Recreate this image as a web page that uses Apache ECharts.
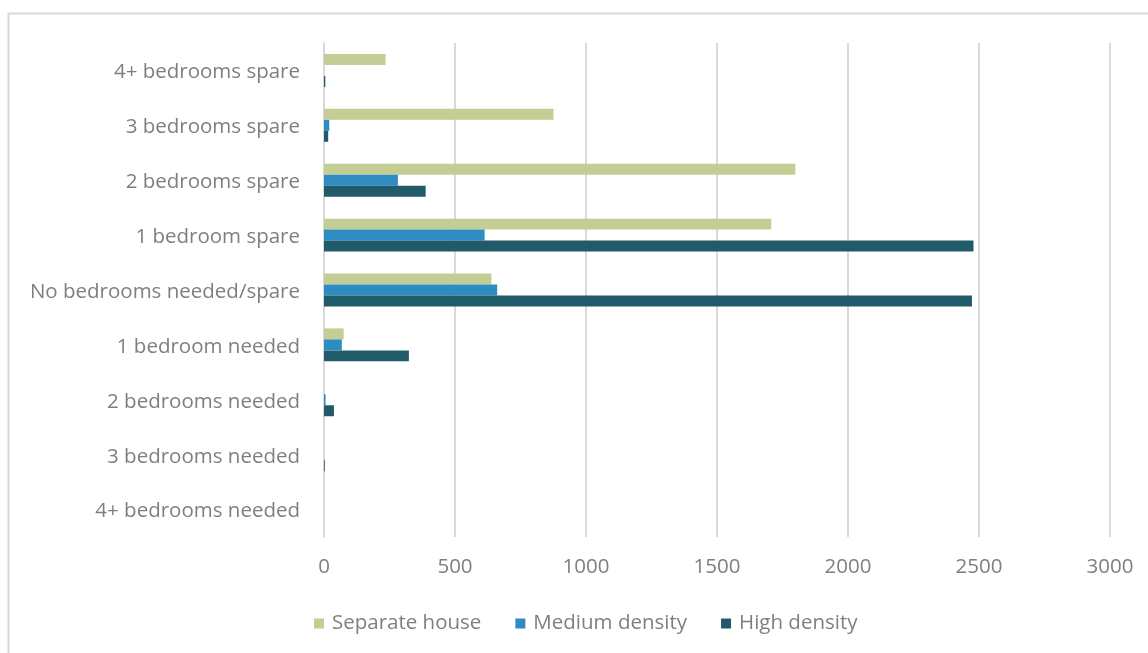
<!DOCTYPE html>
<html>
<head>
<meta charset="utf-8">
<script src="https://cdn.jsdelivr.net/npm/echarts@6/dist/echarts.min.js"></script>
<style>
  html, body { margin: 0; padding: 0; background: #ffffff; }
  #chart { width: 1148px; height: 653px; }
</style>
</head>
<body>
<div id="chart"></div>
<script>
// Bedroom occupancy by dwelling type, listed top to bottom
const categories = [
  '4+ bedrooms spare',
  '3 bedrooms spare',
  '2 bedrooms spare',
  '1 bedroom spare',
  'No bedrooms needed/spare',
  '1 bedroom needed',
  '2 bedrooms needed',
  '3 bedrooms needed',
  '4+ bedrooms needed'
];
const seriesNames = ['Separate house', 'Medium density', 'High density'];
const separateHouse = [235, 876, 1799, 1707, 639, 75, 0, 0, 0];
const mediumDensity = [0, 20, 282, 613, 661, 68, 6, 0, 0];
const highDensity = [5, 16, 388, 2479, 2473, 324, 38, 3, 0];
const xTicks = { min: 0, max: 3000, interval: 500 };

const colors = ['#c4cd93', '#2e8cc3', '#215a69'];
const textColor = '#7f7f7f';
const fontFamily = '"Open Sans", "Noto Sans", sans-serif';
const fontSize = 20.5;

const chart = echarts.init(document.getElementById('chart'), null, { renderer: 'canvas' });

const values = [separateHouse, mediumDensity, highDensity];

chart.setOption({
  animation: false,
  backgroundColor: '#ffffff',
  color: colors,
  textStyle: { fontFamily: fontFamily, color: textColor },
  graphic: [{
    type: 'rect',
    shape: { x: 8.5, y: 13.5, width: 1160, height: 660 },
    style: { fill: 'none', stroke: '#d9d9d9', lineWidth: 2 },
    silent: true,
    z: -1
  }],
  grid: { left: 324, right: 38, top: 43, bottom: 116, containLabel: false },
  legend: {
    top: 608,
    left: 309,
    itemWidth: 10,
    itemHeight: 10,
    itemGap: 34,
    icon: 'rect',
    textStyle: { fontSize: fontSize, color: textColor, fontFamily: fontFamily, padding: [0, 0, 0, 3] },
    data: seriesNames
  },
  xAxis: {
    type: 'value',
    min: xTicks.min,
    max: xTicks.max,
    interval: xTicks.interval,
    axisLine: { show: false },
    axisTick: { show: false },
    splitLine: { show: true, lineStyle: { color: '#d9d9d9', width: 2 } },
    axisLabel: {
      fontSize: fontSize, color: textColor, margin: 20, fontFamily: fontFamily,
      formatter: (v) => String(v)
    }
  },
  yAxis: {
    type: 'category',
    inverse: true,
    data: categories,
    axisLine: { show: true, lineStyle: { color: '#d9d9d9', width: 2 } },
    axisTick: { show: false },
    axisLabel: {
      fontSize: fontSize, color: textColor, margin: 24, fontFamily: fontFamily,
      verticalAlign: 'top', lineHeight: 22, padding: [-9, 0, 0, 0]
    }
  },
  series: seriesNames.map((name, i) => ({
    name: name,
    type: 'bar',
    data: values[i],
    barGap: '0%',
    barCategoryGap: '40%',
    itemStyle: { color: colors[i] }
  }))
});
</script>
</body>
</html>
